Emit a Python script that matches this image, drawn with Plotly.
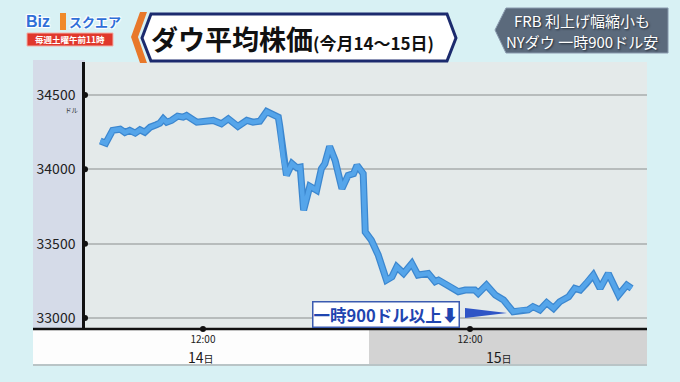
import plotly.graph_objects as go

# ---- data (minutes of trading time: day 14 = 0..390, day 15 = 390..780) ----
minutes = [0, 8, 18, 29, 36, 43, 51, 58, 65, 73, 82, 87, 92, 97, 104, 113, 121, 126,
           141, 155, 165, 177, 187, 201, 214, 223, 233, 243, 250, 260, 262, 267, 272,
           280, 287, 292, 297, 306, 316, 323, 328, 335, 343, 353, 362, 370, 375, 384,
           387, 396, 406, 418, 426, 433, 443, 455, 464, 479, 489, 494, 511, 523, 533,
           547, 552, 564, 577, 589, 603, 616, 625, 632, 642, 652, 662, 671, 684, 693,
           701, 710, 720, 730, 742, 757, 769, 776]
dow = [34190, 34176, 34262, 34270, 34248, 34262, 34244, 34266, 34250, 34284, 34300,
       34311, 34340, 34317, 34329, 34358, 34351, 34362, 34317, 34322, 34329, 34306,
       34340, 34289, 34329, 34317, 34324, 34389, 34374, 34351, 34295, 34082, 33960,
       34038, 34011, 34015, 33725, 33886, 33859, 34005, 34038, 34154, 34060, 33870,
       33960, 33971, 34027, 33971, 33579, 33523, 33423, 33255, 33277, 33344, 33300,
       33367, 33289, 33300, 33244, 33255, 33210, 33177, 33188, 33188, 33166, 33221,
       33154, 33121, 33042, 33054, 33054, 33076, 33054, 33103, 33065, 33109, 33143,
       33199, 33188, 33233, 33289, 33199, 33300, 33154, 33221, 33199]

y_ticks = [33000, 33500, 34000, 34500]
x_ticks = [150, 540]
x_tick_labels = ["12:00", "12:00"]
day_labels = ["14", "15"]

title_main = "ダウ平均株価"
title_sub = "(今月14〜15日)"
headline = ["FRB 利上げ幅縮小も", "NYダウ 一時900ドル安"]
callout = "一時900ドル以上⬇"

FONT = "Noto Sans CJK JP"
XR = [-22.3, 798.5]
YR = [32926, 34722]

# pixel -> paper helpers (plot area: x 85..647, y 62..329)
def PX(p):
    return (p - 85) / 562.0

def PY(p):
    return (329 - p) / 267.0

def path(points):
    return "M " + " L ".join(f"{PX(x):.4f},{PY(y):.4f}" for x, y in points) + " Z"

fig = go.Figure()

fig.add_trace(go.Scatter(
    x=minutes, y=dow, mode="lines",
    line=dict(color="#3c87cf", width=7),
    hoverinfo="skip", showlegend=False))
fig.add_trace(go.Scatter(
    x=minutes, y=dow, mode="lines",
    line=dict(color="#55a5ea", width=4.5),
    showlegend=False))

# tick dots
fig.add_trace(go.Scatter(
    x=[XR[0]] * len(y_ticks), y=y_ticks, mode="markers",
    marker=dict(color="#111", size=6), cliponaxis=False, showlegend=False, hoverinfo="skip"))
fig.add_trace(go.Scatter(
    x=x_ticks, y=[YR[0]] * len(x_ticks), mode="markers",
    marker=dict(color="#111", size=6), cliponaxis=False, showlegend=False, hoverinfo="skip"))

shapes = []
shapes.append(dict(type="rect", xref="paper", yref="paper", x0=PX(33), x1=PX(85), y0=PY(329), y1=PY(60),
                   fillcolor="#d5dbe8", line=dict(width=0), layer="below"))
shapes.append(dict(type="rect", xref="paper", yref="paper", x0=PX(33), x1=PX(369), y0=PY(364), y1=PY(329),
                   fillcolor="#fdfdfd", line=dict(width=0), layer="below"))
shapes.append(dict(type="rect", xref="paper", yref="paper", x0=PX(369), x1=PX(647), y0=PY(364), y1=PY(329),
                   fillcolor="#d3d3d3", line=dict(width=0), layer="below"))
shapes.append(dict(type="line", xref="paper", yref="paper", x0=PX(33), x1=PX(647), y0=PY(365), y1=PY(365),
                   line=dict(color="#b9c4c6", width=2)))
shapes.append(dict(type="line", xref="paper", yref="paper", x0=PX(33), x1=PX(647), y0=0, y1=0,
                   line=dict(color="#111", width=2.5)))
shapes.append(dict(type="path", xref="paper", yref="paper",
                   path=path([(465, 308), (507, 313), (465, 318)]),
                   fillcolor="#2f55c6", line=dict(width=0)))
shapes.append(dict(type="path", xref="paper", yref="paper",
                   path=path([(131, 37), (140, 12), (147, 12), (138, 37), (147, 63), (140, 63)]),
                   fillcolor="#e8782a", line=dict(width=0)))
shapes.append(dict(type="path", xref="paper", yref="paper",
                   path=path([(151, 14), (447, 14), (456, 38), (447, 61), (151, 61), (142, 38)]),
                   fillcolor="#ffffff", line=dict(color="#1c2b6e", width=3)))
shapes.append(dict(type="path", xref="paper", yref="paper",
                   path=path([(506, 8), (668, 8), (668, 53), (506, 53), (495, 30)]),
                   fillcolor="#5b6a7c", line=dict(color="#8a9aae", width=1)))
shapes.append(dict(type="rect", xref="paper", yref="paper", x0=PX(27), x1=PX(113), y0=PY(46), y1=PY(33),
                   fillcolor="#e0382c", line=dict(color="#f3b0a8", width=1)))
shapes.append(dict(type="rect", xref="paper", yref="paper", x0=PX(60), x1=PX(66), y0=PY(30), y1=PY(13),
                   fillcolor="#f08a2a", line=dict(width=0)))


def ann(x, y, text, size, color, family=FONT, xanchor="center", shadow=None, **kw):
    font = dict(family=family, size=size, color=color)
    if shadow:
        font["shadow"] = shadow
    return dict(xref="paper", yref="paper", x=PX(x), y=PY(y), xanchor=xanchor, yanchor="middle",
                text=text, showarrow=False, font=font, **kw)


annotations = [ann(72, 110, "ドル", 6.5, "#333")]
for lbl, cx in zip(day_labels, [201, 499]):
    annotations.append(ann(cx, 356.5, f"{lbl}<span style='font-size:10px'>日</span>", 14, "#1a1a1a"))
annotations.append(ann(312, 314, f"<b>{callout}</b>", 16.5, "#1f45b0", xanchor="left",
                       bgcolor="#ffffff", bordercolor="#3b5bb0", borderwidth=1.5, borderpad=0))
annotations.append(ann(149, 38, f"<b>{title_main}</b><b style='font-size:17px'>{title_sub}</b>",
                       27, "#111", xanchor="left"))
for line_txt, yy in zip(headline, [20, 41]):
    annotations.append(ann(582, yy, line_txt, 15, "#ffffff", shadow="1px 1px 2px #1e2630"))
annotations.append(ann(24, 21, "<b>Biz</b>", 16, "#2f6fd8", family="Liberation Sans", xanchor="left",
                       shadow="auto"))
annotations.append(ann(67, 21, "<b>スクエア</b>", 13, "#2f6fd8", xanchor="left", shadow="auto"))
annotations.append(ann(70, 39.5, "<b>毎週土曜午前11時</b>", 8.5, "#ffffff"))

fig.update_layout(
    width=680, height=382,
    margin=dict(l=85, r=33, t=62, b=53),
    paper_bgcolor="#d8f1f4",
    plot_bgcolor="#e4eaea",
    font=dict(family=FONT, color="#222"),
    shapes=shapes,
    annotations=annotations,
    xaxis=dict(range=XR, tickvals=x_ticks, ticktext=x_tick_labels, showgrid=False,
               zeroline=False, showline=False, ticks="outside", ticklen=1,
               tickcolor="rgba(0,0,0,0)", tickfont=dict(size=10, color="#222", family=FONT)),
    yaxis=dict(range=YR, tickvals=y_ticks, ticktext=[str(v) for v in y_ticks],
               showgrid=True, gridcolor="#b7bcbc", gridwidth=1.5, zeroline=False,
               showline=True, linecolor="#111", linewidth=2.5, ticks="outside", ticklen=4,
               tickcolor="rgba(0,0,0,0)", tickfont=dict(size=14, color="#222", family=FONT)),
    showlegend=False,
)

fig.write_html("out.html", config={"displayModeBar": False},
               post_script="document.body.style.margin='0';")
